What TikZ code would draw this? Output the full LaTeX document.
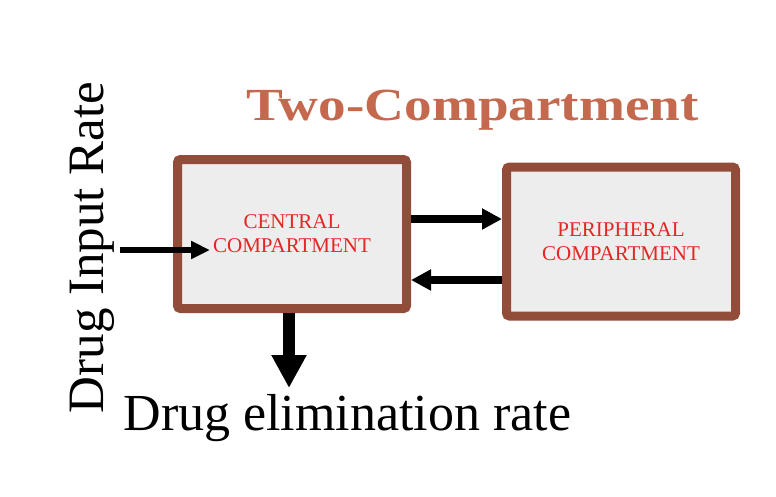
\documentclass[tikz,border=0pt]{standalone}
\usepackage{fontspec}
\setmainfont{Liberation Serif}
\newfontfamily\titlefont[FakeStretch=1.2]{Liberation Serif}
\usetikzlibrary{arrows.meta,calc}
\definecolor{cbrown}{RGB}{146,76,58}
\definecolor{ctitle}{RGB}{196,104,78}
\definecolor{cred}{RGB}{228,38,36}

\begin{document}
\begin{tikzpicture}[x=1pt,y=-1pt,
    comp/.style={draw=cbrown,line width=9pt,rounded corners=3pt,fill=black!7,
      minimum width=229pt,minimum height=149pt,inner sep=0pt,align=center,
      text=cred,font=\fontsize{21}{24}\selectfont},
    a/.style={-{Triangle[length=20pt,width=20pt]},line width=8pt},
    ain/.style={-{Triangle[length=19pt,width=17pt]},line width=6pt},
    aout/.style={-{Triangle[length=33pt,width=33pt]},line width=12pt}]
    \useasboundingbox (0,0) rectangle (776,496);
    \node[text=ctitle,font=\titlefont\bfseries\fontsize{46}{50}\selectfont,anchor=base]
      (ttl) at (472.5,120) {Two-Compartment};
    \node[comp] (cen) at (292,234) {CENTRAL\\COMPARTMENT};
    \node[comp] (per) at (621,241.5) {PERIPHERAL\\COMPARTMENT};
    \draw[a] (cen.east |- 0,219) -- (per.west |- 0,219);
    \draw[a] (per.west |- 0,280) -- (cen.east |- 0,280);

    \node[rotate=90,anchor=base,font=\fontsize{51}{56}\selectfont]
      (inlbl) at (103,247.5) {Drug Input Rate};
    \coordinate (inp) at (120,250);
    \draw[ain] (inp) -- ([xshift=37pt]cen.west |- inp);

    \node[anchor=base west,font=\fontsize{52}{56}\selectfont]
      (outlbl) at (120,430) {Drug elimination rate};
    \coordinate (out) at (289,388);
    \draw[aout] ([xshift=-3pt]cen.south) -- (out);
  \end{tikzpicture}
\end{document}
